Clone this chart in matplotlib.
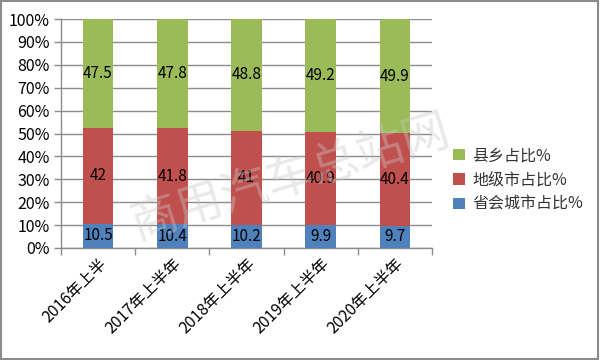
import matplotlib
matplotlib.use("Agg")
import matplotlib.pyplot as plt
from matplotlib.patches import Rectangle
import numpy as np

plt.rcParams['font.family'] = ['Noto Sans CJK SC', 'DejaVu Sans']

categories = ["2016年上半", "2017年上半年", "2018年上半年", "2019年上半年", "2020年上半年"]
provincial = [10.5, 10.4, 10.2, 9.9, 9.7]
prefecture = [42, 41.8, 41, 40.9, 40.4]
county = [47.5, 47.8, 48.8, 49.2, 49.9]
series_names = ["省会城市占比%", "地级市占比%", "县乡占比%"]
colors = ["#4F81BD", "#C0504D", "#9BBB59"]

fig = plt.figure(figsize=(6, 3.6), dpi=100)
ax = fig.add_axes([61/600, 1-248/360, 371/600, 229/360])

x = np.arange(len(categories))
w = 0.41
bottom = np.zeros(len(categories))
handles = []
for vals, name, c in zip([provincial, prefecture, county], series_names, colors):
    v = np.array(vals, dtype=float)
    b = ax.bar(x, v, w, bottom=bottom, color=c, label=name, zorder=3)
    handles.append(b)
    for xi, vi, bi in zip(x, v, bottom):
        ax.text(xi, bi + vi/2, f"{vi:g}", ha='center', va='center', fontsize=11, color='black', zorder=4)
    bottom += v

ax.set_xlim(-0.5, len(categories) - 0.5)
ax.set_ylim(0, 100)
ax.set_yticks(np.arange(0, 101, 10))
ax.set_yticklabels([f"{t}%" for t in range(0, 101, 10)], fontsize=11.5)
ax.yaxis.grid(True, color='#8C8C8C', linewidth=1, zorder=0)
ax.set_xticks(x)
ax.set_xticklabels(categories, rotation=45, ha='right', rotation_mode='anchor', fontsize=11.5)
ax.tick_params(axis='x', length=0, pad=5)
ax.set_xticks(np.arange(-0.5, len(categories)), minor=True)
ax.tick_params(axis='x', which='minor', length=5, color='#8C8C8C', width=1)
ax.tick_params(axis='y', length=5, color='#8C8C8C', width=1, pad=3)
for s in ['top', 'right']:
    ax.spines[s].set_visible(False)
for s in ['left', 'bottom']:
    ax.spines[s].set_color('#8C8C8C')
    ax.spines[s].set_linewidth(1)

leg = fig.legend(handles[::-1], series_names[::-1], loc='center left', bbox_to_anchor=(439/600, 1-180/360),
                 frameon=False, fontsize=11.5, handlelength=0.7, handleheight=0.7, handletextpad=0.5, labelspacing=0.45)
for t in leg.get_texts():
    t.set_color('#333333')

fig.text(290/600, 1-178/360, "商用汽车总站网", fontsize=34, color='#C8C8C8', alpha=0.4,
         rotation=17, ha='center', va='center', zorder=10, fontweight='light')

fig.patches.append(Rectangle((0.002, 0.003), 0.995, 0.994, transform=fig.transFigure,
                             fill=False, edgecolor='#8C8C8C', linewidth=1.5))

fig.savefig("out.png", dpi=100)
